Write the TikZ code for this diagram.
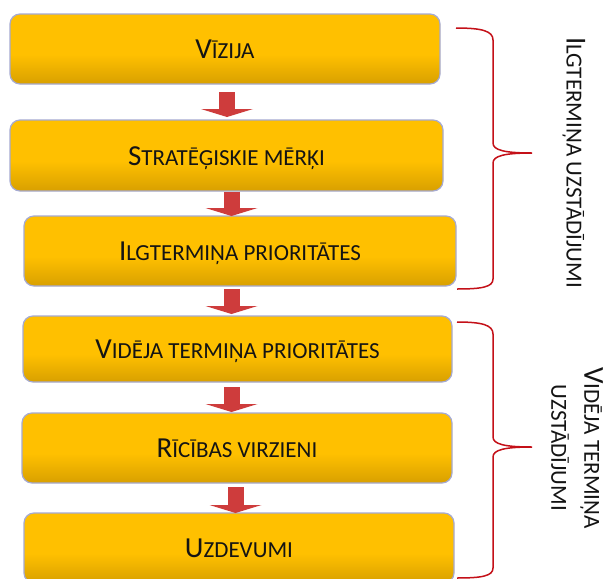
\documentclass[tikz,border=0pt]{standalone}
\usepackage{fontspec}
\setmainfont{Carlito}
\usetikzlibrary{arrows.meta}
\definecolor{gold}{RGB}{255,192,0}
\definecolor{golddark}{RGB}{216,160,0}
\definecolor{boxline}{RGB}{165,170,210}
\definecolor{arrowred}{RGB}{206,60,60}
\definecolor{bracered}{RGB}{196,16,24}
\definecolor{txt}{RGB}{20,20,20}
\pgfdeclareverticalshading{goldsh}{100bp}{color(0bp)=(golddark); color(25bp)=(golddark); color(46bp)=(gold); color(100bp)=(gold)}
\newcommand{\SCap}[2]{{\fontsize{29}{34}\selectfont #1}{\fontsize{23}{34}\selectfont #2}}
\newcommand{\SSm}[1]{{\fontsize{23}{34}\selectfont #1}}
\tikzset{
  box/.style={draw=boxline, line width=1.2pt, rounded corners=10pt, shading=goldsh,
    inner sep=0pt, outer sep=0pt, text height=19pt, text depth=0pt, text=txt},
  flow/.style={draw=arrowred, line width=16pt, -{Triangle[width=52pt,length=8pt,line width=0pt]}},
  bracepath/.style={draw=bracered, line width=1.5pt},
  lab/.style={rotate=-90, text=txt, inner sep=0pt, align=center, font=\fontsize{29}{33}\selectfont}
}
\begin{document}
\begin{tikzpicture}[x=1pt,y=-1pt]
\clip (0,0) rectangle (606,579);
\fill[white] (0,0) rectangle (606,579);
% boxes
\node[box, minimum width=430pt, minimum height=70pt] (b1) at (225,49) {\SCap{V}{ĪZIJA}};
\node[box, minimum width=433pt, minimum height=71pt] (b2) at (226.5,155.5) {\SCap{S}{TRATĒĢISKIE MĒRĶI}};
\node[box, minimum width=432pt, minimum height=70pt] (b3) at (240,251) {\SCap{I}{LGTERMIŅA PRIORITĀTES}};
\node[box, minimum width=429pt, minimum height=66pt] (b4) at (237.5,349) {\SCap{V}{IDĒJA TERMIŅA PRIORITĀTES}};
\node[box, minimum width=430pt, minimum height=70pt] (b5) at (237,448) {\SCap{R}{ĪCĪBAS VIRZIENI}};
\node[box, minimum width=430pt, minimum height=70pt] (b6) at (239,548) {\SCap{U}{ZDEVUMI}};
% arrows
\draw[flow] ([xshift=2pt,yshift=-8pt]b1.south) -- ([xshift=0.5pt,yshift=3pt]b2.north);
\draw[flow] ([xshift=5pt,yshift=-0.5pt]b2.south) -- ([xshift=-8.5pt,yshift=0pt]b3.north);
\draw[flow] ([xshift=-8.5pt,yshift=-3pt]b3.south) -- ([xshift=-6pt,yshift=2pt]b4.north);
\draw[flow] ([xshift=-6pt,yshift=-5pt]b4.south) -- ([xshift=-5.5pt,yshift=1pt]b5.north);
\draw[flow] ([xshift=-1.5pt,yshift=-4pt]b5.south) -- ([xshift=-3.5pt,yshift=0pt]b6.north);
% braces
\coordinate (br1t) at (456,28);
\coordinate (br1m) at (532,153);
\coordinate (br1b) at (457,289);
\draw[bracepath] (br1t) .. controls (482,28) and (493,31) .. (493,40) -- (493,143)
  .. controls (493,150) and (504,153) .. (br1m)
  .. controls (504,153) and (493,156) .. (493,163) -- (493,279)
  .. controls (493,287) and (482,289) .. (br1b);
\coordinate (br2t) at (457,322);
\coordinate (br2m) at (532,447);
\coordinate (br2b) at (457,578);
\draw[bracepath] (br2t) .. controls (482,322) and (493,325) .. (493,334) -- (493,437)
  .. controls (493,444) and (504,447) .. (br2m)
  .. controls (504,447) and (493,450) .. (493,457) -- (493,568)
  .. controls (493,576) and (482,578) .. (br2b);
% labels
\node[lab, text height=19pt, text depth=0pt] (l1) at (576,162.5) {\SCap{I}{LGTERMIŅA UZSTĀDĪJUMI}};
\node[lab] (l2) at (577,448) {\SCap{V}{IDĒJA TERMIŅA}\\\SSm{UZSTĀDĪJUMI}};
\end{tikzpicture}
\end{document}
